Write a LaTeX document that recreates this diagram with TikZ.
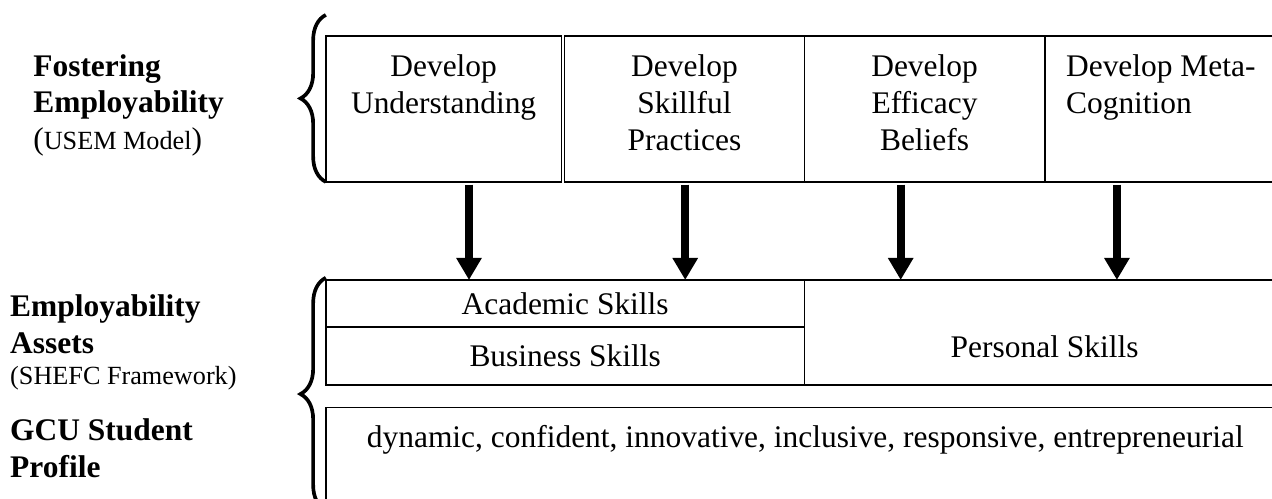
\documentclass[tikz,border=0pt]{standalone}
\usepackage{fontspec}
\setmainfont{Liberation Serif}
\usepackage{tikz}
\usetikzlibrary{arrows.meta, positioning, decorations.pathreplacing}

\begin{document}
\begin{tikzpicture}[
  cell/.style={draw, line width=0.7pt, inner sep=0pt, outer sep=0pt, minimum width=3.22cm, minimum height=1.96cm, font=\fontsize{12}{14.1}\selectfont},
  celltext/.style={inner sep=0pt, align=center, font=\fontsize{12}{14.1}\selectfont},
  sidetext/.style={anchor=north west, inner sep=0pt, align=left, font=\fontsize{12}{14.1}\selectfont},
  flow/.style={line width=3pt, shorten <=1pt, -{Triangle[length=8.4pt, width=9.2pt]}},
  bracket/.style={decorate, decoration={brace, amplitude=0.34cm}, line width=1.4pt}
]
  \path[use as bounding box] (0,0) rectangle (17.06,-6.68);
  \clip (0,0) rectangle (17.06,-6.68);

  % row labels on the left
  \node[sidetext] (foster) at (0.44,-0.72) {\textbf{Fostering}\\\textbf{Employability}\\({\fontsize{10}{14.1}\selectfont USEM Model})};
  \node[sidetext] (assets) at (0.13,-3.95) {\textbf{Employability}\\\textbf{Assets}\\[-2.2pt]{\fontsize{10}{12}\selectfont (SHEFC Framework)}};
  \node[sidetext] (gcu) at (0.13,-5.61) {\textbf{GCU Student}\\\textbf{Profile}};

  % USEM row
  \node[cell, minimum width=3.16cm] (understand) at (5.95,-1.46) {};
  \node[cell, right=0.04cm of understand] (skill) {};
  \node[cell, right=0pt of skill] (efficacy) {};
  \node[cell, right=0pt of efficacy] (meta) {};
  \node[celltext, below=6.9pt of understand.north] {Develop\\Understanding};
  \node[celltext, below=6.9pt of skill.north] {Develop\\Skillful\\Practices};
  \node[celltext, below=6.9pt of efficacy.north] {Develop\\Efficacy\\Beliefs};
  \node[celltext, align=left, below right=6.9pt and 8pt of meta.north west] {Develop Meta-\\Cognition};

  % SHEFC assets and student profile
  \node[cell, minimum width=6.42cm, minimum height=0.63cm] (academic) at (7.58,-4.07) {Academic Skills};
  \node[cell, below=0pt of academic, minimum width=6.42cm, minimum height=0.78cm] (business) {Business Skills};
  \node[cell, anchor=north west, minimum width=6.44cm, minimum height=1.41cm] (personal) at (academic.north east) {};
  \node[celltext] at ([yshift=-0.19cm]personal.center) {Personal Skills};
  \node[cell, anchor=north west, minimum width=12.86cm, minimum height=1.38cm] (profile) at ([yshift=-0.30cm]business.south west) {};
  \node[celltext] at ([yshift=0.25cm]profile.center) {dynamic, confident, innovative, inclusive, responsive, entrepreneurial};

  % arrows down
  \foreach \src/\dst/\col in {understand/academic/6.29, skill/academic/9.19, efficacy/personal/12.08, meta/personal/14.98}
    \draw[flow] (\src.south -| \col,0) -- (\col,0 |- \dst.north);

  % braces
  \draw[bracket] (understand.south west) -- ([yshift=0.28cm]understand.north west);
  \draw[bracket] (profile.south west) -- ([yshift=0.03cm]academic.north west);
\end{tikzpicture}
\end{document}
